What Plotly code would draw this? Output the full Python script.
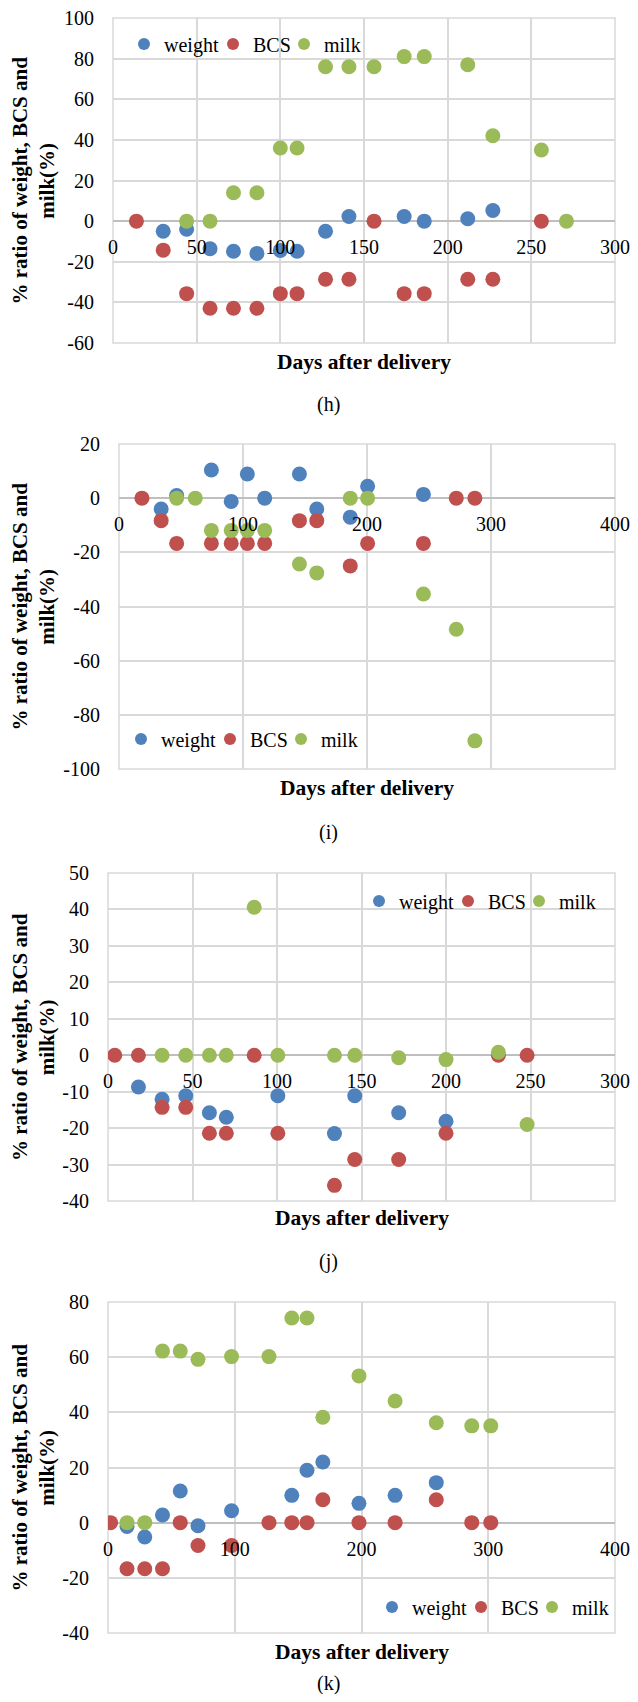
import plotly.graph_objects as go

# The page is 638x1702 and its body keeps an 8px margin, so the figure is
# sized to fit inside that margin; page pixels are mapped with OFF.
PAGE_W, PAGE_H = 638, 1702
OFF = 8
W, H = PAGE_W - 2 * OFF, PAGE_H - 2 * OFF
FONT = "Liberation Serif"
COLORS = {"weight": "#4F81BD", "BCS": "#C0504D", "milk": "#9BBB59"}
SERIES = ["weight", "BCS", "milk"]

# ---------------- data (h) ----------------
h_weight_x = [30, 44, 58, 72, 86, 100, 110, 127, 141, 174, 186, 212, 227]
h_weight_y = [-5, -4, -13.6, -14.8, -15.9, -14.4, -14.8, -5, 2.3, 2.3, 0, 1.2, 5.2]
h_bcs_x = [14, 30, 44, 58, 72, 86, 100, 110, 127, 141, 156, 174, 186, 212, 227, 256]
h_bcs_y = [0, -14.3, -35.7, -42.9, -42.9, -42.9, -35.7, -35.7, -28.6, -28.6, 0,
           -35.7, -35.7, -28.6, -28.6, 0]
h_milk_x = [44, 58, 72, 86, 100, 110, 127, 141, 156, 174, 186, 212, 227, 256, 271]
h_milk_y = [0, 0, 14, 14, 36, 36, 76, 76, 76, 81, 81, 77, 42, 35, 0]

# ---------------- data (i) ----------------
i_weight_x = [34, 46.5, 74.5, 90.5, 103.5, 117.5, 145.5, 159.5, 186.5, 200.5, 245.5]
i_weight_y = [-4, 1, 10.4, -1.2, 8.9, 0, 8.9, -4, -7, 4.4, 1.4]
i_bcs_x = [18.5, 34, 46.5, 74.5, 90.5, 103.5, 117.5, 145.5, 159.5, 186.5, 200.5,
           245.5, 272, 287]
i_bcs_y = [0, -8.3, -16.7, -16.7, -16.7, -16.7, -16.7, -8.3, -8.3, -25, -16.7,
           -16.7, 0, 0]
i_milk_x = [46.5, 61.5, 74.5, 90.5, 103.5, 117.5, 145.5, 159.5, 186.5, 200.5,
            245.5, 272, 287]
i_milk_y = [0, 0, -11.9, -11.9, -11.9, -11.9, -24.3, -27.6, 0, 0, -35.4, -48.4,
            -89.6]

# ---------------- data (j) ----------------
j_weight_x = [18, 32, 46, 60, 70, 100.5, 134, 146, 172, 200]
j_weight_y = [-8.7, -12.1, -11.1, -15.8, -17, -11.1, -21.5, -11.1, -15.8, -18.1]
j_bcs_x = [4, 18, 32, 46, 60, 70, 86.5, 100.5, 134, 146, 172, 200, 231, 248]
j_bcs_y = [0, 0, -14.3, -14.3, -21.4, -21.4, 0, -21.4, -35.7, -28.6, -28.6, -21.4,
           0, 0]
j_milk_x = [32, 46, 60, 70, 86.5, 100.5, 134, 146, 172, 200, 231, 248]
j_milk_y = [0, 0, 0, 0, 40.6, 0, 0, 0, -0.7, -1.2, 0.8, -19]

# ---------------- data (k) ----------------
k_weight_x = [15, 29, 43, 57, 71, 97.5, 145, 157, 169.5, 198, 226.5, 259]
k_weight_y = [-1.4, -5.2, 2.8, 11.5, -1.1, 4.3, 9.9, 19, 22, 7, 9.9, 14.5]
k_bcs_x = [2, 15, 29, 43, 57, 71, 97.5, 127, 145, 157, 169.5, 198, 226.5, 259,
           287, 302]
k_bcs_y = [0, -16.7, -16.7, -16.7, 0, -8.3, -8.3, 0, 0, 0, 8.3, 0, 0, 8.3, 0, 0]
k_milk_x = [15, 29, 43, 57, 71, 97.5, 127, 145, 157, 169.5, 198, 226.5, 259, 287,
            302]
k_milk_y = [0, 0, 62.2, 62.2, 59.2, 60.2, 60.2, 74.2, 74.2, 38.2, 53.2, 44.1, 36.2,
            35.1, 35.1]

panel_labels = ["(h)", "(i)", "(j)", "(k)"]
x_title = "Days after delivery"
y_title = "% ratio of weight, BCS and<br>milk(%)"

x_ranges = [[0, 300], [0, 400], [0, 300], [0, 400]]
x_ticks = [
    [0, 50, 100, 150, 200, 250, 300],
    [0, 100, 200, 300, 400],
    [0, 50, 100, 150, 200, 250, 300],
    [0, 100, 200, 300, 400],
]
y_ranges = [[-60, 100], [-100, 20], [-40, 50], [-40, 80]]
y_ticks = [
    [-60, -40, -20, 0, 20, 40, 60, 80, 100],
    [-100, -80, -60, -40, -20, 0, 20],
    [-40, -30, -20, -10, 0, 10, 20, 30, 40, 50],
    [-40, -20, 0, 20, 40, 60, 80],
]

data = [
    [(h_weight_x, h_weight_y), (h_bcs_x, h_bcs_y), (h_milk_x, h_milk_y)],
    [(i_weight_x, i_weight_y), (i_bcs_x, i_bcs_y), (i_milk_x, i_milk_y)],
    [(j_weight_x, j_weight_y), (j_bcs_x, j_bcs_y), (j_milk_x, j_milk_y)],
    [(k_weight_x, k_weight_y), (k_bcs_x, k_bcs_y), (k_milk_x, k_milk_y)],
]

# ---------------- layout (page pixels) ----------------
plot_px = [  # left, right, top, bottom
    (113, 615, 18, 343),
    (119, 615, 444, 769),
    (108, 615, 873, 1201),
    (108, 615, 1302, 1633),
]
legend_mx = [(149, 238, 309), (146, 235, 306), (384, 473, 544), (397, 486, 557)]
legend_my = [44, 739, 901, 1607]
xtitle_y = [362, 788, 1218, 1652]
plabel_y = [405, 833, 1261, 1683]


def fx(px):
    return (px - OFF) / W


def fy(py):
    return 1 - (py - OFF) / H


GRID = "#d9d9d9"
ZERO = "#bfbfbf"

fig = go.Figure()
layout = dict(
    width=W, height=H, margin=dict(l=0, r=0, t=0, b=0, autoexpand=False),
    paper_bgcolor="white", plot_bgcolor="white",
    font=dict(family=FONT, size=20, color="black"),
    showlegend=True, annotations=[], shapes=[],
)

leg_n = 0
for p in range(4):
    sfx = "" if p == 0 else str(p + 1)
    xname, yname = "x" + sfx, "y" + sfx
    l, r, t, b = plot_px[p]
    xd = [fx(l), fx(r)]
    yd = [fy(b), fy(t)]
    y0, y1 = y_ranges[p]
    pos0 = yd[0] + (0 - y0) / (y1 - y0) * (yd[1] - yd[0])

    for k, (s, (xs, ys)) in enumerate(zip(SERIES, data[p])):
        leg_n += 1
        lname = "legend" if leg_n == 1 else "legend" + str(leg_n)
        fig.add_trace(go.Scatter(
            x=xs, y=ys, mode="markers", name=s,
            marker=dict(size=15, color=COLORS[s]),
            xaxis=xname, yaxis=yname, legend=lname,
        ))
        layout[lname] = dict(
            orientation="h", x=fx(legend_mx[p][k] - 25),
            y=fy(legend_my[p]), xanchor="left", yanchor="middle",
            bgcolor="rgba(0,0,0,0)", itemwidth=30, itemsizing="constant",
            font=dict(family=FONT, size=20, color="black"),
        )

    layout["xaxis" + sfx] = dict(
        domain=xd, range=x_ranges[p],
        tickvals=x_ticks[p], ticktext=[str(v) for v in x_ticks[p]],
        showgrid=True, gridcolor=GRID, gridwidth=1.5,
        zeroline=False, showline=False, ticks="",
        anchor="free", position=pos0, ticklabelstandoff=12,
        ticklabeloverflow="allow",
        tickfont=dict(family=FONT, size=20, color="black"),
    )
    layout["yaxis" + sfx] = dict(
        domain=yd, range=y_ranges[p],
        tickvals=y_ticks[p], ticktext=[str(v) for v in y_ticks[p]],
        showgrid=True, gridcolor=GRID, gridwidth=1.5,
        zeroline=True, zerolinecolor=ZERO, zerolinewidth=2,
        showline=False, ticks="", anchor=xname, ticklabelstandoff=18,
        ticklabeloverflow="allow",
        tickfont=dict(family=FONT, size=20, color="black"),
    )
    layout["shapes"].append(dict(
        type="rect", xref=xname + " domain", yref=yname + " domain",
        x0=0, x1=1, y0=0, y1=1, line=dict(color=GRID, width=1.5),
        layer="below",
    ))
    cx = fx((l + r) / 2)
    layout["annotations"].append(dict(
        text="<b>" + x_title + "</b>", x=cx, y=fy(xtitle_y[p]),
        xref="paper", yref="paper", showarrow=False, xanchor="center",
        yanchor="middle", font=dict(family=FONT, size=21.5, color="black"),
    ))
    layout["annotations"].append(dict(
        text=panel_labels[p], x=fx(328), y=fy(plabel_y[p]),
        xref="paper", yref="paper", showarrow=False, xanchor="center",
        yanchor="middle", font=dict(family=FONT, size=20, color="black"),
    ))
    layout["annotations"].append(dict(
        text="<b>" + y_title + "</b>", x=fx(33), y=fy((t + b) / 2),
        xref="paper", yref="paper", showarrow=False, xanchor="center",
        yanchor="middle", textangle=-90,
        font=dict(family=FONT, size=21, color="black"),
    ))

fig.update_layout(**layout)
fig.write_html("out.html")
